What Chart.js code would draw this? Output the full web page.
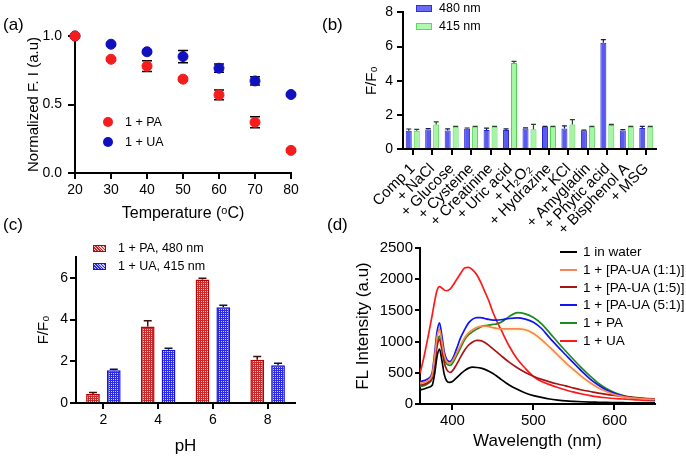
<!DOCTYPE html>
<html><head><meta charset="utf-8">
<script src="https://cdn.jsdelivr.net/npm/chart.js@4.4.1/dist/chart.umd.min.js"></script>
<style>
html,body{margin:0;padding:0;background:#fff;}
body{width:686px;height:457px;position:relative;overflow:hidden;font-family:"Liberation Sans",Arial,sans-serif;color:#000;}
canvas{position:absolute;display:block;}
.plbl{position:absolute;font-size:17px;line-height:17px;white-space:nowrap;}
.leg{position:absolute;white-space:nowrap;line-height:1;}
</style></head><body>
<canvas id="ca" width="340" height="228" style="left:0;top:0"></canvas>
<canvas id="cb" width="346" height="236" style="left:340px;top:0"></canvas>
<canvas id="cc" width="340" height="229" style="left:0;top:228px"></canvas>
<canvas id="cd" width="346" height="227" style="left:340px;top:230px"></canvas>

<div class="plbl" style="left:3px;top:16px">(a)</div>
<div class="plbl" style="left:322px;top:16px">(b)</div>
<div class="plbl" style="left:3px;top:216px">(c)</div>
<div class="plbl" style="left:327px;top:216px">(d)</div>

<div id="legA"></div><div id="legB"></div><div id="legC"></div><div id="legD"></div>

<script>
// ---------- (a) temperature ----------
const tempC = [20, 30, 40, 50, 60, 70, 80];
const paNorm = [1.0, 0.83, 0.78, 0.685, 0.57, 0.37, 0.165];
const paNormErr = [0, 0.01, 0.04, 0.01, 0.035, 0.04, 0.01];
const uaNorm = [1.0, 0.94, 0.885, 0.85, 0.765, 0.672, 0.573];
const uaNormErr = [0, 0.01, 0.01, 0.045, 0.03, 0.03, 0.01];

// ---------- (b) selectivity ----------
const analytes = ['Comp 1', '+ NaCl', '+ Glucose', '+ Cysteine', '+ Creatinine', '+ Uric acid', '+ H₂O₂', '+ Hydrazine', '+ KCl', '+ Amygladin', '+ Phytic acid', '+ Bisphenol A', '+ MSG'];
const sel480 = [1.07, 1.14, 1.08, 1.18, 1.12, 1.12, 1.2, 1.31, 1.2, 1.08, 6.22, 1.08, 1.23];
const sel480Err = [0.1, 0.05, 0.1, 0.05, 0.1, 0.06, 0.04, 0.02, 0.15, 0.02, 0.19, 0.05, 0.1];
const sel415 = [1.07, 1.44, 1.31, 1.31, 1.31, 5.03, 1.16, 1.31, 1.44, 1.31, 1.4, 1.31, 1.31];
const sel415Err = [0.08, 0.15, 0.02, 0.02, 0.02, 0.1, 0.28, 0.02, 0.28, 0.02, 0.04, 0.02, 0.02];

// ---------- (c) pH ----------
const phLabels = ['2', '4', '6', '8'];
const phPA480 = [0.43, 3.67, 5.92, 2.07];
const phPA480Err = [0.07, 0.27, 0.06, 0.16];
const phUA415 = [1.57, 2.55, 4.59, 1.81];
const phUA415Err = [0.05, 0.07, 0.1, 0.1];
const phYTicks = [0, 2, 4, 6];

// ---------- (d) spectra ----------
const wl = [360,365,370,375,378,381,384,387,390,393,397,400,405,410,415,420,425,430,435,440,445,450,455,460,470,480,490,500,510,520,530,540,550,560,570,580,590,600,610,620,630,640,650];
const flWater = [225,240,265,300,480,760,880,700,470,370,345,360,420,480,535,575,590,585,575,555,525,490,445,395,305,235,175,135,105,80,63,50,42,36,31,28,25,23,21,20,19,18,17];
const flPAUA11 = [330,345,380,470,740,1070,1200,1000,780,680,650,690,810,940,1060,1140,1190,1225,1245,1250,1240,1225,1210,1205,1205,1205,1190,1130,1030,910,785,660,545,435,340,260,200,150,118,97,85,78,72];
const flPAUA15 = [300,315,345,420,640,920,1040,870,660,550,505,530,630,750,860,945,995,1020,1015,985,940,885,830,775,670,580,505,445,395,355,320,290,255,225,200,175,155,138,122,110,98,88,80];
const flPAUA51 = [360,375,405,500,800,1150,1300,1090,830,710,680,720,880,1060,1190,1300,1360,1385,1385,1370,1355,1345,1345,1350,1370,1380,1360,1310,1210,1060,920,785,650,520,400,305,225,170,130,103,87,77,70];
const flPA = [280,295,330,420,680,970,1090,930,720,640,620,650,770,900,1030,1110,1160,1200,1235,1255,1265,1275,1285,1310,1400,1465,1445,1385,1285,1140,990,845,705,570,445,335,250,185,140,110,90,78,70];
const flUA = [490,760,1080,1420,1640,1820,1880,1860,1825,1815,1840,1890,1990,2090,2180,2190,2150,2070,1950,1800,1650,1470,1320,1190,930,720,570,440,360,310,265,225,190,160,135,115,100,88,80,72,65,58,53];
const wlTicks = [400, 500, 600];

// ---------- styling ----------
const FONT = '"Liberation Sans", Arial, sans-serif';
Chart.defaults.font.family = FONT;
Chart.defaults.color = '#000';
Chart.defaults.animation = false;
Chart.defaults.plugins.legend.display = false;
Chart.defaults.plugins.tooltip.enabled = false;

function axis(o) {
  const tl = o.tickLength || 6;
  const base = {
    border: {display: true, color: '#000', width: 2},
    grid: {display: true, drawOnChartArea: false, drawTicks: true, tickLength: tl, tickWidth: 2, tickColor: '#000', color: '#000', lineWidth: 2, offset: false},
    ticks: {color: '#000', font: {size: o.tickSize || 14}, padding: o.tickPad === undefined ? 3 : o.tickPad},
  };
  const out = Object.assign({}, o.extra || {});
  out.border = base.border;
  out.grid = base.grid;
  out.ticks = Object.assign(base.ticks, (o.extra && o.extra.ticks) || {});
  return out;
}

function drawErrors(chart, top) {
  const ctx = chart.ctx;
  chart.data.datasets.forEach((ds, di) => {
    if (!ds.errors || !!ds.errorsOnTop !== top) return;
    const meta = chart.getDatasetMeta(di);
    const ys = chart.scales[meta.yAxisID];
    ctx.save();
    ctx.strokeStyle = ds.errorColor || '#000';
    ctx.lineWidth = ds.errorWidth || 1.5;
    meta.data.forEach((el, i) => {
      const e = ds.errors[i];
      if (!e) return;
      const raw = ds.data[i];
      const v = (typeof raw === 'object') ? raw.y : raw;
      const x = el.x;
      const yTop = ys.getPixelForValue(v + e);
      const yBot = ds.errorBoth ? ys.getPixelForValue(v - e) : el.y;
      const cap = ds.errorCap || 4;
      ctx.beginPath();
      ctx.moveTo(x, yTop); ctx.lineTo(x, yBot);
      ctx.moveTo(x - cap, yTop); ctx.lineTo(x + cap, yTop);
      if (ds.errorBoth) { ctx.moveTo(x - cap, yBot); ctx.lineTo(x + cap, yBot); }
      ctx.stroke();
    });
    ctx.restore();
  });
}
const errorBars = {
  id: 'errorBars',
  beforeDatasetsDraw(chart) { drawErrors(chart, false); },
  afterDatasetsDraw(chart) { drawErrors(chart, true); }
};

function pattern(c1, c2) {
  const p = document.createElement('canvas');
  p.width = 4; p.height = 4;
  const g = p.getContext('2d');
  g.fillStyle = c2; g.fillRect(0, 0, 4, 4);
  g.fillStyle = c1;
  for (let y = 0; y < 4; y++) for (let x = 0; x < 4; x++) if (!(x % 2 === 1 && y % 2 === 1)) g.fillRect(x, y, 1, 1);
  return g.createPattern(p, 'repeat');
}

const RED_A = '#f41c1c', BLUE_A = '#1010bf';

// ---------- chart (a) ----------
new Chart(document.getElementById('ca'), {
  type: 'scatter',
  data: {datasets: [
    {label: '1 + PA', data: tempC.map((t, i) => ({x: t, y: paNorm[i]})), backgroundColor: RED_A, borderColor: RED_A, pointRadius: 5, pointHoverRadius: 5, clip: false,
     errors: paNormErr, errorBoth: true, errorCap: 5, errorWidth: 1.5},
    {label: '1 + UA', data: tempC.map((t, i) => ({x: t, y: uaNorm[i]})), backgroundColor: BLUE_A, borderColor: BLUE_A, pointRadius: 5, pointHoverRadius: 5, clip: false,
     errors: uaNormErr, errorBoth: true, errorCap: 5, errorWidth: 1.5}
  ]},
  options: {
    responsive: false,
    layout: {padding: {left: 0, top: 36, right: 49, bottom: 0}},
    scales: {
      x: axis({tickLength: 6, tickPad: 3, extra: {type: 'linear', min: 20, max: 80,
        ticks: {stepSize: 10},
        title: {display: true, text: 'Temperature (ᵒC)', font: {size: 16}, padding: {top: 0, bottom: 5}},
        afterFit: s => { s.height = 55; }}}),
      y: axis({tickLength: 7, tickPad: 6, extra: {min: 0, max: 1,
        ticks: {stepSize: 0.5, callback: v => Number(v).toFixed(1)},
        title: {display: true, text: 'Normalized F. I (a.u)', font: {size: 15}, padding: {top: 25, bottom: 0}},
        afterFit: s => { s.width = 75; }}})
    }
  },
  plugins: [errorBars]
});

// ---------- chart (b) ----------
new Chart(document.getElementById('cb'), {
  type: 'bar',
  data: {labels: analytes, datasets: [
    {label: '480 nm', data: sel480, backgroundColor: '#5a5af2', borderColor: '#2525d0', borderWidth: 1,
     barPercentage: 0.75, categoryPercentage: 0.82, errors: sel480Err, errorsOnTop: true, errorCap: 2.5, errorColor: '#1a1a4a', errorWidth: 1.2},
    {label: '415 nm', data: sel415, backgroundColor: '#a6f5a6', borderColor: '#4ad04a', borderWidth: 1,
     barPercentage: 0.75, categoryPercentage: 0.82, errors: sel415Err, errorsOnTop: true, errorCap: 2.5, errorColor: '#1f4a1f', errorWidth: 1.2}
  ]},
  options: {
    responsive: false,
    layout: {padding: {left: 0, top: 7, right: 30, bottom: 0}},
    scales: {
      x: axis({tickLength: 6, tickPad: 5, extra: {
        ticks: {minRotation: 45, maxRotation: 45, autoSkip: false, font: {size: 15}},
        afterFit: s => { s.height = 87; }}}),
      y: axis({tickLength: 6, tickPad: 4, extra: {min: 0, max: 8,
        ticks: {stepSize: 2},
        title: {display: true, text: 'F/F₀', font: {size: 15}, padding: {top: 23, bottom: 0}},
        afterFit: s => { s.width = 63; }}})
    }
  },
  plugins: [errorBars]
});

// ---------- chart (c) ----------
const patRed = pattern('#c82828', '#f5c8c8');
const patBlue = pattern('#2a2ae8', '#cfcfff');
new Chart(document.getElementById('cc'), {
  type: 'bar',
  data: {labels: phLabels, datasets: [
    {label: '1 + PA, 480 nm', data: phPA480, backgroundColor: patRed, borderColor: '#c00000', borderWidth: 1.5,
     barPercentage: 0.66, categoryPercentage: 0.76, errors: phPA480Err, errorsOnTop: true, errorCap: 4, errorColor: '#3a1010', errorWidth: 1.5},
    {label: '1 + UA, 415 nm', data: phUA415, backgroundColor: patBlue, borderColor: '#1010f0', borderWidth: 1.5,
     barPercentage: 0.66, categoryPercentage: 0.76, errors: phUA415Err, errorsOnTop: true, errorCap: 4, errorColor: '#10103a', errorWidth: 1.5}
  ]},
  options: {
    responsive: false,
    layout: {padding: {left: 0, top: 29, right: 45, bottom: 0}},
    scales: {
      x: axis({tickLength: 6, tickPad: 3, extra: {
        title: {display: true, text: 'pH', font: {size: 17}, padding: {top: 0, bottom: 0}},
        afterFit: s => { s.height = 54; }}}),
      y: axis({tickLength: 6, tickPad: 2, extra: {min: 0, max: 7,
        afterBuildTicks: s => { s.ticks = phYTicks.map(v => ({value: v})); },
        title: {display: true, text: 'F/F₀', font: {size: 15}, padding: {top: 35, bottom: 0}},
        afterFit: s => { s.width = 76; }}})
    }
  },
  plugins: [errorBars]
});

// ---------- chart (d) ----------
const specSeries = [
  {label: '1 in water', data: flWater, color: '#000000'},
  {label: '1 + [PA-UA (1:1)]', data: flPAUA11, color: '#f5855c'},
  {label: '1 + [PA-UA (1:5)]', data: flPAUA15, color: '#a81414'},
  {label: '1 + [PA-UA (5:1)]', data: flPAUA51, color: '#1414ee'},
  {label: '1 + PA', data: flPA, color: '#1f8a1f'},
  {label: '1 + UA', data: flUA, color: '#ff1818'}
];
const toXY = arr => wl.map((w, i) => ({x: w, y: arr[i]}));
const dsD = specSeries.map(s => ({label: s.label, data: toXY(s.data), borderColor: s.color, backgroundColor: s.color,
  borderWidth: 1.7, pointRadius: 0, cubicInterpolationMode: 'monotone', fill: false}));
dsD.push({label: 'halo', data: toXY(flPAUA11), borderColor: 'rgba(255,246,200,0.7)', borderWidth: 5, pointRadius: 0, cubicInterpolationMode: 'monotone', fill: false});
new Chart(document.getElementById('cd'), {
  type: 'line',
  data: {datasets: dsD},
  options: {
    responsive: false,
    layout: {padding: {left: 0, top: 18, right: 31, bottom: 0}},
    scales: {
      x: axis({tickLength: 6, tickPad: 2, tickSize: 15, extra: {type: 'linear', min: 360, max: 650,
        afterBuildTicks: s => { s.ticks = wlTicks.map(v => ({value: v})); },
        ticks: {callback: v => String(v)},
        title: {display: true, text: 'Wavelength (nm)', font: {size: 17}, padding: {top: 0, bottom: 5}},
        afterFit: s => { s.height = 53; }}}),
      y: axis({tickLength: 5, tickPad: 2, tickSize: 15, extra: {min: 0, max: 2500,
        ticks: {stepSize: 500, callback: v => String(v)},
        title: {display: true, text: 'FL Intensity (a.u)', font: {size: 17}, padding: {top: 13, bottom: 0}},
        afterFit: s => { s.width = 80; }}})
    }
  }
});

// ---------- HTML legends ----------
function legend(id, items, o) {
  const root = document.getElementById(id);
  items.forEach((it, i) => {
    const y = o.y0 + i * o.dy;
    const sw = document.createElement('div');
    sw.style.position = 'absolute';
    if (o.kind === 'dot') {
      sw.style.left = (o.sx - 5) + 'px'; sw.style.top = (y - 5) + 'px';
      sw.style.width = '10px'; sw.style.height = '10px'; sw.style.borderRadius = '50%';
      sw.style.background = it.color;
    } else if (o.kind === 'line') {
      sw.style.left = o.sx + 'px'; sw.style.top = (y - 1) + 'px';
      sw.style.width = o.sw + 'px'; sw.style.height = '2px'; sw.style.background = it.color;
    } else {
      sw.style.left = o.sx + 'px'; sw.style.top = (y - o.sh / 2) + 'px';
      sw.style.width = o.sw + 'px'; sw.style.height = o.sh + 'px';
      sw.style.boxSizing = 'border-box';
      sw.style.border = '1.5px solid ' + it.border;
      sw.style.background = it.fill;
    }
    root.appendChild(sw);
    const t = document.createElement('div');
    t.className = 'leg';
    t.style.left = o.tx + 'px';
    t.style.top = (y - o.fs * 0.5) + 'px';
    t.style.fontSize = o.fs + 'px';
    t.style.lineHeight = o.fs + 'px';
    t.textContent = it.label;
    root.appendChild(t);
  });
}
legend('legA', [{label: '1 + PA', color: RED_A}, {label: '1 + UA', color: BLUE_A}],
  {kind: 'dot', sx: 108, y0: 122, dy: 20, tx: 125, fs: 12.5});
legend('legB', [{label: '480 nm', fill: '#6a6af5', border: '#3030e0'}, {label: '415 nm', fill: '#b0f7b0', border: '#55dd55'}],
  {kind: 'box', sx: 416, sw: 16, sh: 7, y0: 8, dy: 18.5, tx: 439, fs: 12.5});
legend('legC', [{label: '1 + PA, 480 nm', fill: 'repeating-linear-gradient(45deg,#c42a2a 0 1px,#f3c6c6 1px 2px)', border: '#c00000'},
                {label: '1 + UA, 415 nm', fill: 'repeating-linear-gradient(45deg,#2a2ae6 0 1px,#c9c9ff 1px 2px)', border: '#1010f0'}],
  {kind: 'box', sx: 93, sw: 13, sh: 7, y0: 248, dy: 18, tx: 118, fs: 12.5});
legend('legD', specSeries.map(s => ({label: s.label, color: s.color})),
  {kind: 'line', sx: 560, sw: 17, y0: 252, dy: 17.7, tx: 583, fs: 13.5});
</script>
</body></html>
